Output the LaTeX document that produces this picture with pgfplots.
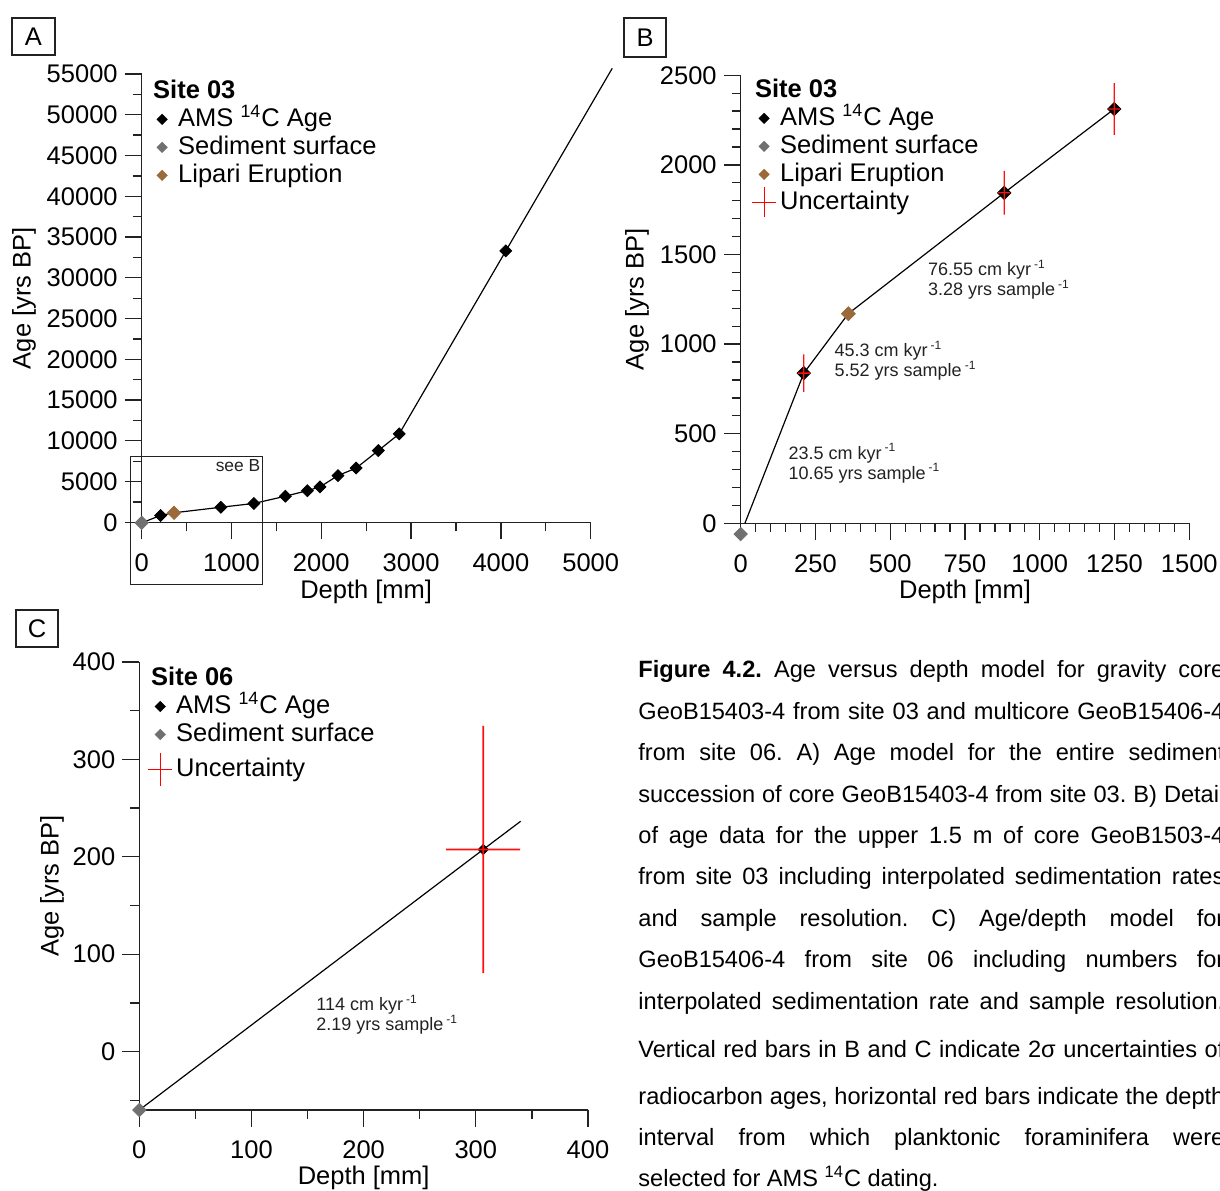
\documentclass[border=0pt]{standalone}
\usepackage{pgfplots}
\pgfplotsset{compat=1.18}
\usepackage{fontspec}
\setmainfont{Liberation Sans}
\frenchspacing
\definecolor{surfgray}{HTML}{707070}
\definecolor{lipari}{HTML}{9C6A3A}
\definecolor{axcol}{HTML}{222222}
\definecolor{errred}{HTML}{FF1010}

\pgfplotsset{
  panel/.style={
    scale only axis, anchor=south west,
    axis x line*=bottom, axis y line*=left,
    tick align=outside,
    major tick length=8.5pt, minor tick length=4.5pt,
    axis line style={line width=0.65pt, draw=axcol},
    tick style={line width=0.65pt, draw=axcol},
    tick label style={font=\fontsize{12.75}{14}\selectfont},
    xticklabel style={yshift=-3.5pt},
    label style={font=\fontsize{12.75}{14}\selectfont},
    /pgf/number format/assume math mode=true,
    /pgf/number format/1000 sep={},
    scaled ticks=false,
    legend cell align=left,
    legend style={draw=none, fill=none, inner xsep=0pt, inner ysep=0pt, anchor=north west,
       font=\fontsize{12.75}{14}\selectfont, row sep=2pt, column sep=2pt,
       nodes={inner sep=0pt, text height=9.5pt, text depth=2.5pt}},
  },
  diamleg/.style={legend image code/.code={%
     \path[draw=none, fill=none] (-6pt,-6pt) rectangle (6pt,6pt);
     \fill[#1, draw=none] (0pt,2.8pt) -- (2.8pt,0pt) -- (0pt,-2.8pt) -- (-2.8pt,0pt) -- cycle;}},
  crossleg/.style 2 args={legend image code/.code={%
     \path[draw=none, fill=none] (-6pt,-#1) rectangle (6pt,#1);
     \draw[red, fill=none, line width=0.6pt, overlay] (0pt,-#2) -- (0pt,#2) (-6pt,0pt) -- (6pt,0pt);}},
  errbar/.style={forget plot, draw=none, fill=errred, mark=none},
}

\begin{document}
\begin{tikzpicture}
\path[use as bounding box] (0pt,0pt) rectangle (610pt,595pt);

% ---------------- Panel A ----------------
\begin{axis}[panel, at={(70.85pt,333.85pt)}, width=224.5pt, height=224.15pt,
  xmin=0, xmax=5000, ymin=0, ymax=55000,
  xtick={0,1000,...,5000}, minor xtick={500,1500,...,4500},
  ytick={0,5000,...,55000}, minor ytick={2500,7500,...,52500},
  clip=false,
  xlabel={Depth [mm]}, ylabel={Age [yrs BP]},
  xlabel style={at={(axis description cs:0.5,-0.155)}, anchor=center},
  ylabel style={at={(axis description cs:-0.262,0.5)}, anchor=center},
  legend style={at={(axis description cs:0.018,0.989)}},
]
\addlegendimage{empty legend}\addlegendentry{\hspace*{-12.5pt}\textbf{Site 03}}
\addlegendimage{diamleg=black}\addlegendentry{AMS \textsuperscript{14}C Age}
\addlegendimage{diamleg=surfgray}\addlegendentry{Sediment surface}
\addlegendimage{diamleg=lipari}\addlegendentry{Lipari Eruption}

\addplot[forget plot, black, line width=0.6pt] coordinates {
 (0,-60) (211,838) (360,1170) (881,1844) (1249,2312) (1600,3200) (1845,3880)
 (1985,4340) (2185,5730) (2388,6650) (2635,8800) (2868,10850) (4055,33300) (5240,55700)};
\addplot[forget plot, only marks, mark=square*, mark size=2.1pt, mark options={rotate=45, fill=black, draw=black}] coordinates {
 (211,838) (881,1844) (1249,2312) (1600,3200) (1845,3880)
 (1985,4340) (2185,5730) (2388,6650) (2635,8800) (2868,10850) (4055,33300)};
\addplot[forget plot, only marks, mark=square*, mark size=2.35pt, mark options={rotate=45, fill=surfgray, draw=surfgray}] coordinates {(0,-60)};
\addplot[forget plot, only marks, mark=square*, mark size=2.35pt, mark options={rotate=45, fill=lipari, draw=lipari}] coordinates {(360,1170)};

\draw[line width=0.5pt, axcol] (axis cs:-122.5,8134) rectangle (axis cs:1343,-7570);
\node[anchor=base east, inner sep=0pt, font=\fontsize{8.7}{10}\selectfont, text=axcol] at (axis cs:1325,6195) {see B};
\end{axis}

% ---------------- Panel B ----------------
\begin{axis}[panel, at={(370.35pt,333.35pt)}, width=224.3pt, height=224pt,
  xmin=0, xmax=1500, ymin=0, ymax=2500,
  xtick={0,250,...,1500}, minor x tick num=4,
  ytick={0,500,...,2500}, minor y tick num=4,
  clip=false, clip marker paths=true,
  xlabel={Depth [mm]}, ylabel={Age [yrs BP]},
  xlabel style={at={(axis description cs:0.5,-0.153)}, anchor=center},
  ylabel style={at={(axis description cs:-0.231,0.5)}, anchor=center},
  legend style={at={(axis description cs:0.0246,0.994)}},
]
\addlegendimage{empty legend}\addlegendentry{\hspace*{-12.5pt}\textbf{Site 03}}
\addlegendimage{diamleg=black}\addlegendentry{AMS \textsuperscript{14}C Age}
\addlegendimage{diamleg=surfgray}\addlegendentry{Sediment surface}
\addlegendimage{diamleg=lipari}\addlegendentry{Lipari Eruption}
\addlegendimage{crossleg={6pt}{7.5pt}}\addlegendentry{Uncertainty}

% age model line (visible from the axis at age 0)
\addplot[forget plot, black, line width=0.6pt] coordinates {
 (14,0) (211,838) (360,1170) (881,1844) (1249,2312)};
\addplot[forget plot, only marks, mark=square*, mark size=2.35pt, mark options={rotate=45, fill=black, draw=black}] coordinates {
 (211,838) (881,1844) (1249,2312)};
\addplot[forget plot, only marks, mark=square*, mark size=2.35pt, mark options={rotate=45, fill=surfgray, draw=surfgray}] coordinates {(0,-60)};
\addplot[forget plot, only marks, mark=square*, mark size=2.45pt, mark options={rotate=45, fill=lipari, draw=lipari}] coordinates {(360,1170)};
% 2-sigma age uncertainties (vertical) and sample depth intervals (horizontal)
\addplot[errbar] coordinates {(208.8,733) (213.2,733) (213.2,943) (208.8,943) (208.8,733)};
\addplot[errbar] coordinates {(191,834.4) (231,834.4) (231,841.6) (191,841.6) (191,834.4)};
\addplot[errbar] coordinates {(878.8,1722) (883.2,1722) (883.2,1966) (878.8,1966) (878.8,1722)};
\addplot[errbar] coordinates {(861,1840.4) (901,1840.4) (901,1847.6) (861,1847.6) (861,1840.4)};
\addplot[errbar] coordinates {(1246.8,2168) (1251.2,2168) (1251.2,2456) (1246.8,2456) (1246.8,2168)};
\addplot[errbar] coordinates {(1229,2308.4) (1269,2308.4) (1269,2315.6) (1229,2315.6) (1229,2308.4)};

\node[anchor=west, align=left, inner sep=0pt, font=\fontsize{9}{10}\selectfont, text=axcol] at (axis cs:625,1359)
 {76.55 cm kyr\,\textsuperscript{-1}\\3.28 yrs sample\,\textsuperscript{-1}};
\node[anchor=west, align=left, inner sep=0pt, font=\fontsize{9}{10}\selectfont, text=axcol] at (axis cs:313,907)
 {45.3 cm kyr\,\textsuperscript{-1}\\5.52 yrs sample\,\textsuperscript{-1}};
\node[anchor=west, align=left, inner sep=0pt, font=\fontsize{9}{10}\selectfont, text=axcol] at (axis cs:159,335)
 {23.5 cm kyr\,\textsuperscript{-1}\\10.65 yrs sample\,\textsuperscript{-1}};
\end{axis}

% ---------------- Panel C ----------------
\begin{axis}[panel, at={(69.65pt,40pt)}, width=224.35pt, height=224pt,
  xmin=0, xmax=400, ymin=-60, ymax=400,
  xtick={0,100,...,400}, minor xtick={50,150,250,350},
  ytick={0,100,...,400}, minor ytick={-50,50,150,250,350},
  clip=false, clip marker paths=true,
  xlabel={Depth [mm]}, ylabel={Age [yrs BP]},
  xlabel style={at={(axis description cs:0.5,-0.151)}, anchor=center},
  ylabel style={at={(axis description cs:-0.1946,0.5)}, anchor=center},
  legend style={at={(axis description cs:0.019,0.991)}},
]
\addlegendimage{empty legend}\addlegendentry{\hspace*{-12.5pt}\textbf{Site 06}}
\addlegendimage{diamleg=black}\addlegendentry{AMS \textsuperscript{14}C Age}
\addlegendimage{diamleg=surfgray}\addlegendentry{Sediment surface}
\addlegendimage{crossleg={9.5pt}{8.2pt}}\addlegendentry{Uncertainty}

\addplot[forget plot, black, line width=0.6pt] coordinates {
 (0,-60) (306.6,207.5) (340,236.5)};
\addplot[forget plot, only marks, mark=square*, mark size=1.8pt, mark options={rotate=45, fill=black, draw=black}] coordinates {(306.6,207.5)};
\addplot[forget plot, only marks, mark=square*, mark size=2.35pt, mark options={rotate=45, fill=surfgray, draw=surfgray}] coordinates {(0,-60)};
\addplot[errbar] coordinates {(305.85,80.5) (307.35,80.5) (307.35,334.5) (305.85,334.5) (305.85,80.5)};
\addplot[errbar] coordinates {(273.6,206.65) (339.6,206.65) (339.6,208.35) (273.6,208.35) (273.6,206.65)};

\node[anchor=west, align=left, inner sep=0pt, font=\fontsize{9}{10}\selectfont, text=axcol] at (axis cs:157.5,38)
 {114 cm kyr\,\textsuperscript{-1}\\2.19 yrs sample\,\textsuperscript{-1}};
\end{axis}

% ---------------- Panel letters ----------------
\node[draw=axcol, line width=0.6pt, minimum width=21.5pt, minimum height=18.5pt, inner sep=0pt,
  font=\fontsize{12.75}{14}\selectfont] at (16.75pt,576.75pt) {A};
\node[draw=axcol, line width=0.6pt, minimum width=21pt, minimum height=19.5pt, inner sep=0pt,
  font=\fontsize{12.75}{14}\selectfont] at (322.5pt,576.25pt) {B};
\node[draw=axcol, line width=0.6pt, minimum width=21pt, minimum height=18.5pt, inner sep=0pt,
  font=\fontsize{12.75}{14}\selectfont] at (18.5pt,280.75pt) {C};

% ---------------- Caption ----------------
\begin{scope}[every node/.style={anchor=base west, inner sep=0pt, font=\fontsize{11.8}{14}\selectfont}]
\node at (319pt,256.25pt) {\makebox[293pt][s]{\textbf{Figure 4.2.} Age versus depth model for gravity core}};
\node at (319pt,235.25pt) {\makebox[293pt][s]{GeoB15403-4 from site 03 and multicore GeoB15406-4}};
\node at (319pt,214.75pt) {\makebox[293pt][s]{from site 06. A) Age model for the entire sediment}};
\node at (319pt,193.75pt) {\makebox[293pt][s]{succession of core GeoB15403-4 from site 03. B) Detail}};
\node at (319pt,173.25pt) {\makebox[293pt][s]{of age data for the upper 1.5 m of core GeoB1503-4}};
\node at (319pt,152.75pt) {\makebox[293pt][s]{from site 03 including interpolated sedimentation rates}};
\node at (319pt,131.75pt) {\makebox[293pt][s]{and sample resolution. C) Age/depth model for}};
\node at (319pt,111.25pt) {\makebox[293pt][s]{GeoB15406-4 from site 06 including numbers for}};
\node at (319pt,90.25pt) {\makebox[293pt][s]{interpolated sedimentation rate and sample resolution.}};
\node at (319pt,66.25pt) {\makebox[293pt][s]{Vertical red bars in B and C indicate 2σ uncertainties of}};
\node at (319pt,42.75pt) {\makebox[293pt][s]{radiocarbon ages, horizontal red bars indicate the depth}};
\node at (319pt,22.25pt) {\makebox[293pt][s]{interval from which planktonic foraminifera were}};
\node at (319pt,1.75pt) {selected for AMS \textsuperscript{14}C dating.};
\end{scope}
\end{tikzpicture}
\end{document}
